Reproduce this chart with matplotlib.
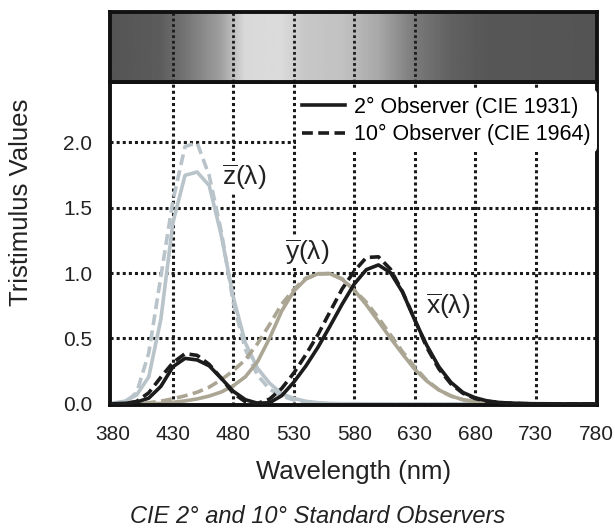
import matplotlib.pyplot as plt
import numpy as np

plt.rcParams['font.family'] = ['Liberation Sans', 'DejaVu Sans']
plt.rcParams['mathtext.fontset'] = 'custom'
plt.rcParams['mathtext.rm'] = 'Liberation Sans'

wl = np.arange(380, 781, 10)

# CIE 1931 2 deg observer
x2 = [0.001, 0.004, 0.014, 0.044, 0.134, 0.284, 0.348, 0.336, 0.291, 0.195, 0.096,
      0.032, 0.005, 0.009, 0.063, 0.166, 0.290, 0.433, 0.595, 0.762, 0.916, 1.026,
      1.062, 1.003, 0.854, 0.642, 0.448, 0.284, 0.165, 0.087, 0.047, 0.023, 0.011,
      0.006, 0.003, 0.001, 0.001, 0.0, 0.0, 0.0, 0.0]
y2 = [0.0, 0.0, 0.0, 0.001, 0.004, 0.012, 0.023, 0.038, 0.060, 0.091, 0.139,
      0.208, 0.323, 0.503, 0.710, 0.862, 0.954, 0.995, 0.995, 0.952, 0.870, 0.757,
      0.631, 0.503, 0.381, 0.265, 0.175, 0.107, 0.061, 0.032, 0.017, 0.008, 0.004,
      0.002, 0.001, 0.001, 0.0, 0.0, 0.0, 0.0, 0.0]
z2 = [0.006, 0.020, 0.068, 0.207, 0.646, 1.386, 1.747, 1.772, 1.669, 1.288, 0.813,
      0.465, 0.272, 0.158, 0.078, 0.042, 0.020, 0.009, 0.004, 0.002, 0.002, 0.001,
      0.001, 0.0, 0.0, 0.0, 0.0, 0.0, 0.0, 0.0, 0.0, 0.0, 0.0,
      0.0, 0.0, 0.0, 0.0, 0.0, 0.0, 0.0, 0.0]

# CIE 1964 10 deg observer
x10 = [0.0, 0.002, 0.019, 0.085, 0.204, 0.315, 0.384, 0.371, 0.302, 0.196, 0.081,
       0.016, 0.004, 0.037, 0.118, 0.236, 0.377, 0.530, 0.705, 0.879, 1.014, 1.119,
       1.124, 1.030, 0.856, 0.647, 0.432, 0.268, 0.153, 0.081, 0.041, 0.020, 0.010,
       0.005, 0.002, 0.001, 0.001, 0.0, 0.0, 0.0, 0.0]
y10 = [0.0, 0.0, 0.002, 0.009, 0.021, 0.039, 0.062, 0.089, 0.128, 0.185, 0.254,
       0.339, 0.461, 0.607, 0.762, 0.875, 0.962, 0.992, 0.997, 0.956, 0.869, 0.777,
       0.658, 0.528, 0.398, 0.283, 0.180, 0.108, 0.060, 0.032, 0.016, 0.008, 0.004,
       0.002, 0.001, 0.0, 0.0, 0.0, 0.0, 0.0, 0.0]
z10 = [0.001, 0.010, 0.086, 0.389, 0.973, 1.553, 1.967, 1.995, 1.745, 1.318, 0.772,
       0.415, 0.219, 0.112, 0.061, 0.030, 0.014, 0.004, 0.0, 0.0, 0.0, 0.0,
       0.0, 0.0, 0.0, 0.0, 0.0, 0.0, 0.0, 0.0, 0.0, 0.0, 0.0,
       0.0, 0.0, 0.0, 0.0, 0.0, 0.0, 0.0, 0.0]

xticks = [380, 430, 480, 530, 580, 630, 680, 730, 780]
yticks = [0.0, 0.5, 1.0, 1.5, 2.0]

# gray levels of the spectrum strip on top
band_wl = [380, 420, 440, 470, 490, 520, 540, 570, 600, 630, 660, 690, 780]
band_gray = [0.33, 0.36, 0.45, 0.62, 0.85, 0.86, 0.78, 0.76, 0.66, 0.48, 0.38, 0.34, 0.33]

fig = plt.figure(figsize=(6.15, 5.29), dpi=100)
ax = fig.add_axes([0.179, 0.234, 0.792, 0.611])
bx = fig.add_axes([0.179, 0.845, 0.792, 0.132])

gridc = '#1a1a1a'
for v in xticks[1:-1]:
    ax.axvline(v, color=gridc, lw=2.2, ls=(0, (1, 1)), zorder=1)
for v in yticks[1:]:
    ax.axhline(v, color=gridc, lw=2.2, ls=(0, (1, 1)), zorder=1)

zc = '#b8c3ca'
yc = '#aba594'
xc = '#1c1c1c'
ax.plot(wl, z2, color=zc, lw=2.6, zorder=2)
ax.plot(wl, z10, color=zc, lw=2.6, ls=(0, (3, 1.5)), zorder=2)
ax.plot(wl, y2, color=yc, lw=2.6, zorder=2)
ax.plot(wl, y10, color=yc, lw=2.6, ls=(0, (3, 1.5)), zorder=2)
ax.plot(wl, x2, color=xc, lw=2.6, zorder=3, label='2° Observer (CIE 1931)')
ax.plot(wl, x10, color=xc, lw=2.6, ls=(0, (3, 1.5)), zorder=3, label='10° Observer (CIE 1964)')

lab = dict(fontsize=19, color='#222222', zorder=4,
           bbox=dict(facecolor='white', edgecolor='none', pad=1))
ax.text(471, 1.73, r'$\overline{\mathrm{z}}\mathrm{(λ)}$', va='center', ha='left', **lab)
ax.text(523, 1.16, r'$\overline{\mathrm{y}}\mathrm{(λ)}$', va='center', ha='left', **lab)
ax.text(639, 0.75, r'$\overline{\mathrm{x}}\mathrm{(λ)}$', va='center', ha='left', **lab)

leg = ax.legend(loc='upper right', bbox_to_anchor=(1.0, 0.975), fontsize=15.5,
                frameon=True, framealpha=1, edgecolor='none', facecolor='white',
                handlelength=2.0, handletextpad=0.4, labelspacing=0.3,
                borderpad=0.3, borderaxespad=0)
leg.get_frame().set_linewidth(0)
leg.set_zorder(5)

ax.set_xlim(378, 781)
ax.set_ylim(-0.01, 2.46)
ax.set_xticks(xticks)
ax.set_yticks(yticks)
ax.set_yticklabels(['0.0', '0.5', '1.0', '1.5', '2.0'])
ax.tick_params(length=0, labelsize=15, colors='#222222')
ax.tick_params(axis='y', pad=13)
ax.tick_params(axis='x', pad=14)
for s in ax.spines.values():
    s.set_linewidth(2.8)
    s.set_color('#111111')
ax.set_xlabel('Wavelength (nm)', fontsize=18.5, color='#222222')
ax.set_ylabel('Tristimulus Values', fontsize=18.5, color='#222222')
ax.xaxis.set_label_coords(0.5, -0.168)
ax.yaxis.set_label_coords(-0.158, 0.628)
fig.text(0.517, 0.011, 'CIE 2° and 10° Standard Observers', fontsize=17,
         style='italic', ha='center', va='baseline', color='#222222')

# spectrum strip
strip = np.interp(np.linspace(380, 780, 400), band_wl, band_gray)
bx.imshow(strip[np.newaxis, :], cmap='gray', vmin=0, vmax=1, aspect='auto',
          extent=[378, 781, 0, 1])
for v in xticks[1:6]:
    bx.axvline(v, color=gridc, lw=2, ls=(0, (1, 1)))
bx.set_xlim(378, 781)
bx.set_ylim(0, 1)
bx.set_xticks([])
bx.set_yticks([])
for s in bx.spines.values():
    s.set_linewidth(2.8)
    s.set_color('#111111')

fig.savefig('out.png', dpi=100)
